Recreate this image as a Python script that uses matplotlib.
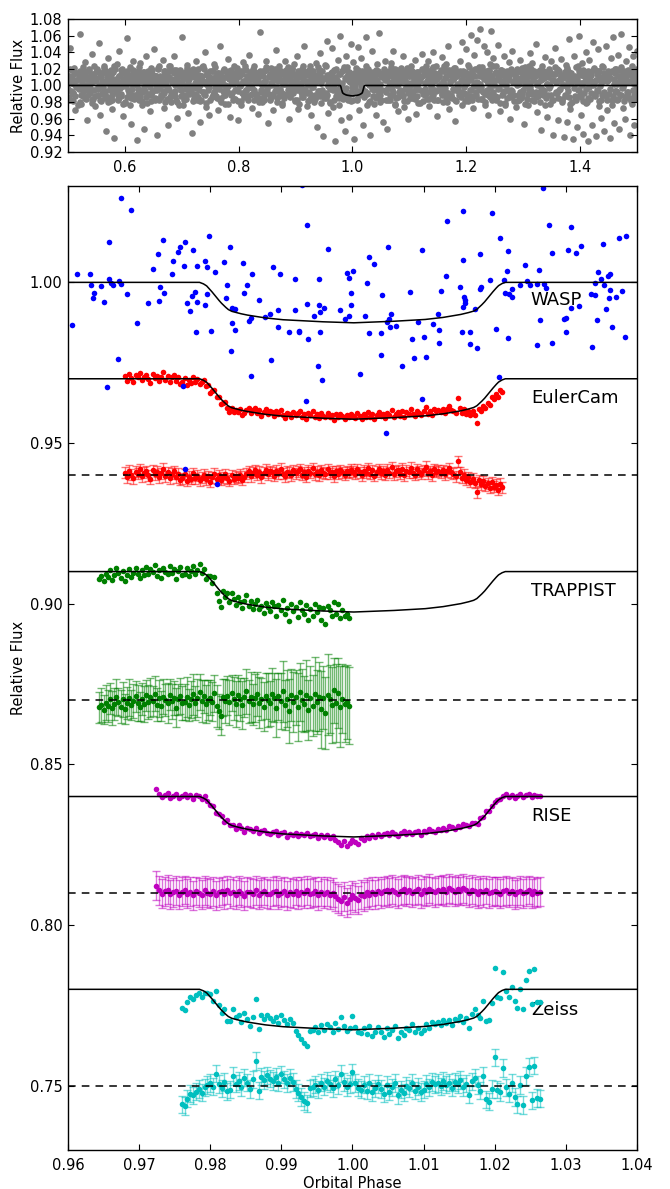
import numpy as np
import matplotlib.pyplot as plt

plt.rcParams['font.family'] = 'DejaVu Sans'
plt.rcParams['xtick.direction'] = 'in'
plt.rcParams['ytick.direction'] = 'in'
plt.rcParams['xtick.top'] = True
plt.rcParams['ytick.right'] = True
plt.rcParams['xtick.major.size'] = 4
plt.rcParams['ytick.major.size'] = 4
plt.rcParams['xtick.major.pad'] = 6
plt.rcParams['ytick.major.pad'] = 4

# --- transit model (half profile: distance from mid-transit -> depth) ---
model_dist = [0.0, 0.005, 0.010, 0.0125, 0.015, 0.016, 0.017, 0.0175, 0.018,
              0.0185, 0.019, 0.0195, 0.020, 0.0205, 0.021, 0.0215]
model_depth = [0.0126, 0.0122, 0.0116, 0.0110, 0.0101, 0.0096, 0.0090, 0.0084,
               0.0074, 0.0063, 0.0050, 0.0036, 0.0023, 0.0011, 0.0004, 0.0]

# instrument names, light-curve baselines and residual baselines
names = ['WASP', 'EulerCam', 'TRAPPIST', 'RISE', 'Zeiss']
colors = ['#0000ff', '#ff0000', '#008000', '#bf00bf', '#00bfbf']
base = [1.00, 0.97, 0.91, 0.84, 0.78]
res_base = [None, 0.94, 0.87, 0.81, 0.75]
label_y = [0.9944, 0.9639, 0.9039, 0.834, 0.7736]

# --- full WASP phase curve (top panel), flux deviation in 1e-3 ---
top_dev = [
    12, -18, 45, 3, -9, 21, -30, 7, 15, -4, 62, -22, 9, -13, 28, 1, -41, 17, -6, 11, 38, -16, 5, -25, 20, -2, 51, -35, 14, -10,
    24, -7, -55, 10, 33, -19, 4, -28, 16, -63, 8, 26, -12, 41, -3, 19, -37, 6, -21, 13, 57, -9, 22, -46, 2, 30, -15, 11, -66, 18,
    -5, 27, -24, 9, -52, 15, 35, -11, 3, -31, 21, -8, 44, -18, 12, -60, 6, 24, -14, 1, 31, -27, 17, -4, -48, 10, 23, -20, 7, 36,
    -13, 19, -39, 4, 14, -6, 58, -23, 11, -2, 25, -33, 8, 16, -57, 20, -10, 3, 29, -17, 13, -44, 5, 22, -8, 40, -26, 15, -1, -35,
    9, 18, -12, 26, -3, 12, -29, 7, 47, -15, 2, 20, -22, 10, -7, 32, -38, 14, 4, -18, 23, -5, 11, -42, 16, 1, -24, 28, -9, 6,
    19, -14, 37, -2, 8, -27, 15, 24, -11, 5, -34, 13, 64, -20, 3, 17, -8, 29, -45, 10, -16, 21, 2, -30, 12, 43, -6, 18, -13, 7,
    -23, 14, 4, 30, -10, 22, -40, 9, 16, -5, 26, -19, 1, 35, -28, 11, -3, 20, -14, 48, 6, -25, 13, -8, 24, -36, 17, 3, -12, 27,
    -50, 15, 39, -21, 8, -61, 25, -9, 54, -33, 12, -4, 45, -26, 19, -67, 7, 31, -15, 60, -42, 3, 22, -55, 36, -11, 16, -38, 50, -2,
    28, -64, 10, -18, 46, -30, 5, 33, -47, 14, -7, 58, -24, 20, -59, 9, 41, -13, 2, -36, 26, -6, 63, -20, 11, -44, 17, 30, -8, -52,
    13, -17, 27, -4, 42, -22, 8, 15, -31, 3, 21, -10, 35, -26, 6, 18, -40, 12, -1, 24, -15, 9, 31, -34, 16, 4, -21, 10, 38, -7,
    20, -12, 5, 29, -25, 14, -3, 40, -18, 7, 23, -37, 11, -6, 17, 34, -20, 2, 26, -9, 48, -28, 13, -15, 8, 21, -43, 16, 1, -11,
    30, -8, 52, 14, -19, 44, 6, 25, -13, 61, 11, -27, 37, 3, 55, -16, 22, 68, -5, 18, 47, -23, 9, 40, -35, 26, 65, -10, 33, 4,
    24, -14, 49, 7, -31, 19, 2, 36, -21, 12, -6, 28, -40, 15, 42, -11, 8, -26, 20, 3, -17, 31, -9, 13, -46, 22, 6, -24, 16, 39,
    -7, 27, -19, 11, 50, -32, 4, 18, -53, 23, -12, 9, 34, -38, 15, 1, -22, 29, -60, 14, 45, -8, 20, -42, 6, 32, -16, 10, -62, 25,
    -44, 17, 56, -28, 8, -65, 35, -13, 22, -50, 60, 3, -36, 27, -58, 12, 40, -20, -67, 31, 5, -47, 52, -10, 19, -61, 44, -25, 9, -39,
    24, -55, 14, 48, -30, 7, -63, 33, -17, 58, -45, 20, -8, 37, -52, 11, 62, -27, 2, -40, 29, -12, 46, -59, 16, -22, 35, -48, 6, 41,
]
# dense core of the same curve (1e-3), two passes
top_core = [
    3, -14, 20, -7, 11, -19, 6, 15, -2, -23, 9, 17, -11, 1, 22, -5, 13, -16, 8, -1, 18, -9, 4, -21, 12, 24, -13, 7, -4, 16,
    -18, 10, 2, -8, 21, -15, 5, 14, -20, 9, -3, 19, -12, 6, 23, -6, 0, -17, 12, 3, -10, 20, -22, 8, 15, -1, -14, 11, 4, -24,
    13, -4, 18, -16, 7, 1, -9, 22, -13, 10, -19, 5, 16, -7, 2, -21, 14, 9, -2, -11, 19, 6, -15, 12, -5, 21, -18, 3, 8, -12,
    -7, 17, -20, 4, 11, -3, 23, -14, 8, -9, 15, 0, -18, 12, 6, -23, 19, -5, 2, 14, -11, 9, -16, 21, 5, -8, 13, -1, -19, 10,
    16, -12, 6, 20, -6, 1, -17, 11, 24, -10, 4, -21, 13, 7, -2, 18, -14, 9, -8, 22, 3, -15, 15, -4, 10, -20, 5, 17, -11, 0,
    -3, 12, -22, 8, 19, -9, 2, 15, -16, 6, 21, -7, 11, -1, -19, 14, 4, -12, 23, -5, 9, -18, 16, 1, -10, 20, -6, 7, 13, -15,
    10, -20, 14, 3, -8, 18, -13, 5, 22, -4, 12, -17, 0, 16, -10, 7, 20, -2, -15, 11, 24, -7, 6, -21, 15, 2, -12, 19, -5, 9,
    -14, 6, 21, -1, 13, -18, 8, -6, 17, -22, 10, 3, -11, 23, -4, 15, -9, 1, 19, -16, 7, -2, 14, -20, 11, 5, -13, 22, -7, 12,
    18, -5, 9, -15, 24, -11, 2, 13, -21, 7, 16, -3, -17, 10, 20, -8, 4, -23, 14, 1, -12, 19, -6, 8, 22, -14, 5, 11, -19, 3,
    -9, 15, -2, 21, -16, 6, 12, -7, 0, 18, -13, 9, 23, -10, 3, -20, 16, 5, -4, 13, -22, 8, 19, -1, -11, 14, 2, -18, 10, 20,
    7, -17, 12, -3, 17, -12, 22, 4, -8, 14, -24, 9, 1, -14, 19, -6, 11, 6, -19, 16, -2, 21, -9, 13, -15, 3, 18, -11, 8, -5,
    15, -1, -21, 10, 5, 20, -10, 13, -4, 24, -16, 7, 17, -8, 2, -13, 22, 11, -6, 9, -18, 14, 0, 19, -12, 6, 23, -3, 12, -20,
    -11, 19, 3, -14, 16, 8, -6, 21, -19, 11, -2, 14, 6, -23, 18, -9, 1, 15, -15, 10, 22, -5, 7, -17, 13, -1, 20, -12, 4, 17,
    2, -16, 22, -8, 9, -20, 14, 5, -11, 18, -3, 12, -18, 23, 7, -13, 16, -4, 10, -21, 19, 3, -9, 13, -24, 8, 17, -6, 11, -14,
    20, -7, 4, -19, 13, 0, -12, 17, 8, -15, 21, -5, 10, -22, 15, 6, -10, 24, -2, 12, -17, 9, 18, -8, 3, -13, 14, -20, 7, 19,
    -6, 11, -23, 16, 2, -11, 20, -1, 14, -18, 7, 22, -9, 5, -15, 18, -4, 12, -20, 9, 1, 16, -13, 21, -7, 10, -22, 15, 6, -3,
    12, -18, 8, 23, -5, 15, -14, 3, 19, -9, 11, -21, 6, 17, -2, -16, 13, 0, 21, -12, 7, -6, 18, -19, 10, 4, -11, 22, -8, 14,
    -13, 5, 18, -10, 9, -24, 16, 2, -7, 20, -17, 11, 4, -12, 22, -3, 14, -19, 8, 13, -8, 19, -15, 6, 24, -5, 10, -16, 1, 17,
]
top_core2 = [
    -4, 11, -17, 6, 19, -9, 2, -13, 15, -1, 8, -20, 13, 4, -7, 17, -15, 10, 0, -11, 20, -3, 7, -18, 14, -6, 9, 16, -12, 1,
    12, -19, 5, -2, 16, -10, 18, -14, 3, 9, -6, 13, -17, 7, 1, 20, -8, -16, 11, 4, -13, 15, -1, 8, -20, 6, 17, -5, 10, -9,
    -15, 7, 19, -11, 2, 14, -4, -18, 10, 6, -8, 16, -2, 12, -14, 5, 18, -10, 3, -19, 9, 13, -6, 1, -16, 20, -3, 11, -12, 8,
    6, -9, 14, 1, -16, 10, -5, 17, -12, 4, 19, -7, 8, -20, 12, -1, 15, -13, 3, 9, -18, 16, -4, 11, 2, -10, 18, -6, 13, -15,
    16, -3, 9, -14, 5, -19, 12, 7, -8, 20, -11, 2, 14, -5, 10, -17, 4, 18, -9, 6, -13, 1, 15, -2, -18, 11, 8, -7, 19, -12,
    -8, 13, -1, 18, -12, 3, 10, -16, 7, 15, -4, -19, 12, 0, 17, -9, 5, -14, 20, -6, 11, 2, -11, 14, -3, 8, -17, 16, 4, -10,
    9, -15, 17, -6, 1, 12, -18, 6, 19, -2, -10, 14, 3, -13, 8, 16, -7, 11, -20, 5, 13, -4, 18, -9, 2, -15, 10, 7, -1, 15,
    -12, 4, 20, -9, 14, -3, 7, -17, 11, 1, 16, -8, -14, 9, 18, -5, 3, -19, 13, 6, -11, 17, -2, 10, -16, 12, 5, -7, 19, -13,
    3, 18, -10, 8, -15, 13, -1, 6, -20, 15, 10, -6, 2, 19, -13, 7, -4, 14, -9, 1, 17, -16, 9, -3, 12, -18, 16, 4, -8, 11,
    -17, 8, 2, 15, -7, 19, -12, 5, 11, -3, -14, 17, 6, -9, 13, 0, -19, 10, 4, 16, -6, 12, -15, 7, 18, -1, -11, 14, -5, 9,
    14, -6, 10, -18, 4, 16, -2, 12, -11, 8, 20, -15, 1, 13, -8, 6, 17, -13, 9, -4, 15, -19, 3, 11, -7, 18, -10, 2, 14, -16,
    1, -13, 16, 7, -5, 11, -19, 18, 3, -9, 13, 6, -16, 10, -1, 20, -12, 5, 15, -7, 8, -17, 12, 2, -10, 17, -4, 9, -14, 19,
    -9, 15, 5, -12, 19, -4, 9, -17, 13, 2, -7, 18, -14, 7, 11, -2, 16, -10, 4, -19, 14, 8, -5, 17, -13, 1, 12, -8, 20, -3,
    11, -2, -16, 13, 8, -10, 17, -5, 3, 19, -14, 6, 12, -8, 1, 15, -18, 9, -3, 14, 5, -12, 18, -7, 10, 0, -15, 16, 7, -11,
    -5, 17, -11, 4, 14, -19, 9, 2, -8, 16, -13, 11, 6, -1, 18, -16, 12, -6, 3, 20, -10, 7, 15, -14, 1, 13, -9, 19, -3, 8,
    18, -7, 12, -15, 2, 10, -3, 16, -12, 7, -18, 14, 4, -9, 19, -5, 8, 13, -17, 1, 11, -11, 17, -2, 6, -14, 15, 3, -20, 10,
    -14, 9, 3, -6, 17, -11, 13, 1, -19, 11, 5, -4, 16, -15, 8, 12, -9, 19, 2, -13, 7, 14, -7, 18, -1, -17, 10, 6, 15, -10,
    7, -18, 13, 10, -4, 18, -13, 8, 15, -7, 2, -16, 19, 5, -11, 12, -2, 17, -14, 9, 4, -8, 14, -19, 11, 3, -12, 16, -6, 20,
]

# --- WASP points in the transit window ---
wasp_phase = [
    0.9605, 0.9613, 0.9631, 0.9633, 0.9635, 0.9637, 0.9647, 0.9651, 0.9655, 0.9658, 0.9658, 0.9660, 0.9663, 0.9671, 0.9672,
    0.9674, 0.9675, 0.9683, 0.9688, 0.9697, 0.9712, 0.9719, 0.9726, 0.9728, 0.9730, 0.9733, 0.9735, 0.9746, 0.9748, 0.9754,
    0.9757, 0.9762, 0.9763, 0.9765, 0.9765, 0.9767, 0.9771, 0.9774, 0.9776, 0.9778, 0.9780, 0.9781, 0.9782, 0.9792, 0.9792,
    0.9795, 0.9796, 0.9798, 0.9801, 0.9807, 0.9810, 0.9819, 0.9822, 0.9823, 0.9828, 0.9829, 0.9830, 0.9830, 0.9835, 0.9835,
    0.9846, 0.9848, 0.9852, 0.9854, 0.9857, 0.9857, 0.9859, 0.9869, 0.9877, 0.9884, 0.9886, 0.9889, 0.9896, 0.9896, 0.9898,
    0.9911, 0.9919, 0.9919, 0.9925, 0.9925, 0.9929, 0.9935, 0.9936, 0.9936, 0.9938, 0.9946, 0.9951, 0.9953, 0.9953, 0.9954,
    0.9955, 0.9957, 0.9960, 0.9966, 0.9982, 0.9990, 0.9992, 0.9995, 0.9995, 0.9998, 0.9998, 1.0001, 1.0010, 1.0017, 1.0021,
    1.0023, 1.0024, 1.0030, 1.0040, 1.0040, 1.0041, 1.0047, 1.0049, 1.0050, 1.0052, 1.0053, 1.0054, 1.0061, 1.0070, 1.0081,
    1.0084, 1.0087, 1.0092, 1.0098, 1.0098, 1.0100, 1.0103, 1.0113, 1.0120, 1.0122, 1.0122, 1.0125, 1.0132, 1.0133, 1.0151,
    1.0154, 1.0155, 1.0156, 1.0156, 1.0157, 1.0158, 1.0158, 1.0165, 1.0166, 1.0172, 1.0175, 1.0179, 1.0180, 1.0181, 1.0194,
    1.0196, 1.0202, 1.0206, 1.0207, 1.0213, 1.0215, 1.0218, 1.0219, 1.0219, 1.0220, 1.0224, 1.0225, 1.0236, 1.0243, 1.0246,
    1.0250, 1.0259, 1.0260, 1.0262, 1.0264, 1.0268, 1.0269, 1.0272, 1.0277, 1.0281, 1.0281, 1.0297, 1.0300, 1.0301, 1.0303,
    1.0307, 1.0308, 1.0315, 1.0318, 1.0321, 1.0335, 1.0337, 1.0341, 1.0341, 1.0344, 1.0346, 1.0349, 1.0352, 1.0354, 1.0357,
    1.0360, 1.0361, 1.0362, 1.0362, 1.0365, 1.0370, 1.0375, 1.0379, 1.0384, 1.0385,
]
wasp_flux = [
    0.9868, 1.0026, 1.0027, 0.9992, 0.9951, 0.9968, 0.9988, 0.9939, 0.9673, 1.0127, 1.0012, 0.9997, 0.9993, 0.9763, 1.0004,
    0.9996, 1.0261, 0.9965, 1.0225, 0.9872, 0.9936, 1.0043, 1.0089, 0.9942, 0.9987, 1.0133, 0.9967, 1.0025, 1.0065, 1.0093,
    1.0111, 0.9678, 1.0052, 1.0127, 0.9418, 0.9937, 0.9910, 0.9959, 1.0102, 0.9969, 0.9845, 1.0052, 0.9940, 0.9931, 1.0065,
    1.0048, 0.9964, 1.0145, 0.9848, 1.0031, 0.9374, 1.0062, 0.9950, 0.9993, 1.0111, 0.9785, 0.9872, 0.9921, 0.9917, 0.9852,
    1.0059, 0.9968, 0.9993, 0.9881, 0.9889, 0.9708, 1.0025, 0.9945, 0.9892, 0.9900, 0.9757, 1.0048, 0.9915, 0.9861, 1.0027,
    0.9847, 1.0012, 0.9913, 0.9850, 0.9845, 1.0303, 0.9631, 1.0179, 0.9932, 0.9825, 0.9894, 0.9741, 0.9929, 1.0009, 0.9908,
    0.9847, 0.9697, 0.9920, 1.0103, 0.9915, 0.9887, 1.0029, 1.0013, 0.9896, 0.9966, 0.9929, 1.0036, 0.9716, 0.9894, 0.9999,
    0.9841, 1.0079, 1.0058, 0.9842, 0.9774, 0.9961, 0.9530, 0.9878, 1.0109, 0.9885, 0.9861, 0.9903, 0.9863, 0.9739, 0.9970,
    0.9825, 0.9764, 0.9878, 1.0102, 0.9636, 0.9829, 0.9769, 0.9870, 0.9903, 0.9851, 0.9811, 0.9974, 1.0021, 1.0191, 0.9987,
    0.9844, 0.9922, 1.0221, 1.0071, 0.9956, 0.9946, 0.9937, 0.9845, 0.9809, 0.9916, 0.9796, 0.9978, 1.0088, 0.9987, 1.0008,
    1.0217, 0.9855, 0.9706, 1.0138, 1.0008, 0.9968, 1.0035, 1.0097, 0.9826, 0.9963, 0.9953, 0.9979, 0.9992, 1.0054, 1.0005,
    0.9992, 0.9806, 0.9996, 1.0038, 0.9882, 1.0294, 0.9996, 0.9981, 1.0177, 1.0090, 0.9812, 0.9885, 0.9890, 0.9847, 1.0100,
    0.9919, 1.0172, 1.0090, 0.9928, 1.0113, 0.9963, 0.9800, 0.9960, 0.9999, 0.9882, 1.0033, 1.0009, 1.0119, 0.9993, 0.9918,
    1.0020, 0.9950, 1.0025, 0.9975, 0.9860, 0.9955, 1.0138, 0.9972, 0.9831, 1.0144,
]

# --- follow-up light curves: sampling and residuals (1e-4) ---
euler_start, euler_step = 0.9680, 0.0003
euler_res = [
    8, -6, 14, 2, -9, 11, 5, 18, -4, 7, 13, -1, -12, 16, 3, 10, -7, 6, 20, -3, 9, -10, 4, 12,
    -6, 4, -15, -9, 3, -18, -5, -12, 6, -10, -2, -16, -8, 1, -13, -4, -20, -7, 5, -11, -1, -14, -6, 3, -9, -17, 0, -12, -3,
    -8, 2, -15, -5,
    4, 12, -3, 8, 15, 1, 10, -6, 7, 17, 3, 13, 9, -2, 14, 6, 20, 5, -4, 11, 8, 0, 16, 6, 12, 19, 2, 9, -5, 14, 7, 22, 3, 11,
    -1, 15, 8, 4, 18, 6, 10, -3, 13, 5, 16, 9, 1, 12, 7, 17,
    11, 4, 18, 9, 0, 14, 7, 21, 5, 15, -2, 10, 19, 6, 13, 1, 17, 8, 24, 3, 12, 16, 5, 20, -1, 14, 9, 23, 7, 2, 18, 11, 4, 15,
    26, 6, 13, 0, 19, 10, 14, 8, 16, 3, 12, 21, 9,
    5, -4, 43, 9, -8, 2, -14, -6, -20, -11, -24, -53, -16, -28, -19, -33, -25, -40, -22, -36, -30, -45, -27, -38,
]
euler_err = 0.0017

trap_start, trap_step = 0.9644, 0.0003
trap_res = [
    -22, -15, -30, -8, -18, 5, -25, -12, 10, -5, -20, 3, -28, -10, 8, -16, -3, 12, -9, -21,
    4, -11, 15, -6, 9, -2, 20, -14, 6, -19, 11, 0, -8, 17, -4, 7, -23, 2, 13, -10,
    -6, 10, -15, 3, 18, -9, 6, 25, -3, 12, -12, 1, 8, -5, 21, -18, -35, -48, 9, -2,
    14, -7, 22, 5, -11, 16, 2, -16, 9, 27, -4, 11, -13, 6, 19, -8, 3, -20, 13, 0,
    -10, 18, 7, -25, 12, -3, 28, -15, 5, -35, 16, -6, 9, -22, 24, 1, -12, 15, -30, 6,
    -18, 20, -5, 11, -28, 8, -40, 17, 3, -14, 30, -9, 22, -20, 5, -12, -6, -18,
]
trap_err = [
    48, 52, 45, 55, 50, 47, 53, 49, 56, 44, 51, 54, 46, 50, 58, 47, 52, 49, 55, 45,
    50, 56, 48, 53, 60, 47, 55, 51, 58, 46, 54, 50, 62, 49, 55, 52, 60, 48, 57, 53,
    55, 62, 50, 58, 64, 52, 60, 56, 66, 51, 59, 63, 54, 61, 57, 65, 55, 62, 58, 68,
    60, 70, 57, 66, 72, 62, 68, 75, 60, 71, 66, 78, 63, 74, 69, 80, 65, 76, 72, 85,
    70, 82, 76, 90, 73, 86, 95, 78, 88, 100, 82, 92, 85, 105, 90, 96, 88, 110, 93, 100,
    95, 115, 100, 108, 120, 98, 112, 125, 105, 118, 102, 122, 110, 125, 108, 118, 115, 120,
]

rise_start, rise_step = 0.9724, 0.0004
rise_res = [
    22, 8, -3, 5, 10, -4, 2, 7, -6, 3, 9, -2, 4, -7, 6, 1, -5, 8, 0, -3,
    5, -8, 2, 6, -4, 9, -1, 3, -6, 7, 0, -9, 4, 2, -3, 8, -5, 1, 6, -2,
    -4, 3, 7, -6, 1, 5, -8, 2, -2, 6, -5, 4, -1, 8, -3, 0, 5, -7, 3, -2,
    4, -6, 1, -10, -18, -25, -12, -30, -20, -8, -15, -22, -5, -11, 2, -6, 3, -4, 6, -1,
    5, 8, 2, 10, 4, -3, 7, 12, 3, 9, 1, 6, 11, -2, 8, 4, 13, 6, 2, 9,
    7, 12, 4, 15, 9, 3, 11, 6, 14, 8, 1, 10, 5, -3, 7, 2, 9, -1, 4, 6,
    3, -2, 5, 8, 0, 6, -4, 2, 7, -1, 4, 9, -3, 5, 1, 3,
]
rise_err = 0.0045

zeiss_start, zeiss_step = 0.9760, 0.0004
zeiss_res = [
    -58, -63, -40, -25, -30, -18, -10, -22, -5, 2,
    8, -3, 38, 5, -8, 12, -17, -12, 30, 6,
    15, -5, 25, 10, -10, 20, 77, -15, 28, 18,
    32, 22, 15, 28, 10, 35, 20, 8, 25, 12,
    -10, -22, -35, -48, -55, -8, -5, 3, -12, 10,
    -3, 15, 6, -8, 20, 2, 38, 12, -4, 5,
    42, 8, -6, -12, 3, -15, 10, -20, -8, 5,
    -10, -25, 2, -18, -5, 8, -30, -12, -22, 0,
    -8, 10, -15, -3, -20, -12, 6, -5, 12, 4,
    8, -2, 15, 3, 10, -6, 12, 5, 18, -4,
    6, -28, 14, 25, 2, -15, 30, -42, -50, -10,
    88, -12, -20, 55, -5, -25, 8, -35, -58, 2,
    -60, 30, 58, -45, 62, -38, -40,
]
zeiss_err = 0.0027


def transit(ph, b):
    d = np.abs(np.asarray(ph) - 1.0)
    return b - np.interp(d, model_dist, model_depth, right=0.0)


fig = plt.figure(figsize=(6.7, 11.89), dpi=100)
ax1 = fig.add_axes([0.1015, 0.8722, 0.849, 0.1118])
ax2 = fig.add_axes([0.1015, 0.0328, 0.849, 0.8108])

# top panel
grey = '#808080'
for vals in (top_dev, top_core, top_core2):
    ph_top = np.linspace(0.5, 1.5, len(vals))
    ax1.plot(ph_top, 1.0 + np.array(vals) / 1000.0, 'o', color=grey, ms=4.8, mew=0, zorder=1)
xx = np.linspace(0.5, 1.5, 2001)
ax1.plot(xx, transit(xx, 1.0), color='black', lw=1.2, zorder=3)
ax1.set_xlim(0.5, 1.5)
ax1.set_ylim(0.92, 1.08)
ax1.set_xticks([0.6, 0.8, 1.0, 1.2, 1.4])
ax1.set_yticks(np.arange(0.92, 1.081, 0.02))
ax1.set_yticklabels(['%.2f' % v for v in np.arange(0.92, 1.081, 0.02)])
ax1.set_ylabel('Relative Flux', fontsize=10.5)

# bottom panel
series = [
    (euler_start, euler_step, euler_res, euler_err),
    (trap_start, trap_step, trap_res, np.array(trap_err) / 1e4),
    (rise_start, rise_step, rise_res, rise_err),
    (zeiss_start, zeiss_step, zeiss_res, zeiss_err),
]
for k, (s0, st, res, err) in enumerate(series, start=1):
    ph = s0 + st * np.arange(len(res))
    r = np.array(res) / 1e4
    c = colors[k]
    ax2.plot(ph, transit(ph, base[k]) + r, 'o', color=c, ms=4, mew=0, zorder=2)
    ax2.errorbar(ph, res_base[k] + r, yerr=err, fmt='none', ecolor=c,
                 elinewidth=1, capsize=3, capthick=1, alpha=0.55, zorder=2)
    ax2.plot(ph, res_base[k] + r, 'o', color=c, ms=4, mew=0, zorder=2)
    ax2.axhline(res_base[k], color='black', ls='--', lw=1.1, dashes=(5, 4), zorder=3)

ax2.plot(wasp_phase, wasp_flux, 'o', color=colors[0], ms=4, mew=0, zorder=2.5)

xm = np.linspace(0.96, 1.04, 1601)
for k in range(5):
    ax2.plot(xm, transit(xm, base[k]), color='black', lw=1.1, zorder=3)
    ax2.text(1.0251, label_y[k], names[k], fontsize=13, va='center', ha='left', zorder=1)

ax2.set_xlim(0.96, 1.04)
ax2.set_ylim(0.73, 1.03)
xt = np.arange(0.96, 1.0401, 0.01)
ax2.set_xticks(xt)
ax2.set_xticklabels(['%.2f' % v for v in xt])
yt = [0.75, 0.80, 0.85, 0.90, 0.95, 1.00]
ax2.set_yticks(yt)
ax2.set_yticklabels(['%.2f' % v for v in yt])
ax2.set_xlabel('Orbital Phase', fontsize=10.5, labelpad=2)
ax2.set_ylabel('Relative Flux', fontsize=10.5)

for ax in (ax1, ax2):
    ax.tick_params(labelsize=10.5)
    for sp in ax.spines.values():
        sp.set_linewidth(1.0)

ax1.yaxis.set_label_coords(-0.073, 0.5)
ax2.yaxis.set_label_coords(-0.073, 0.5)

fig.savefig('out.png', dpi=100)
